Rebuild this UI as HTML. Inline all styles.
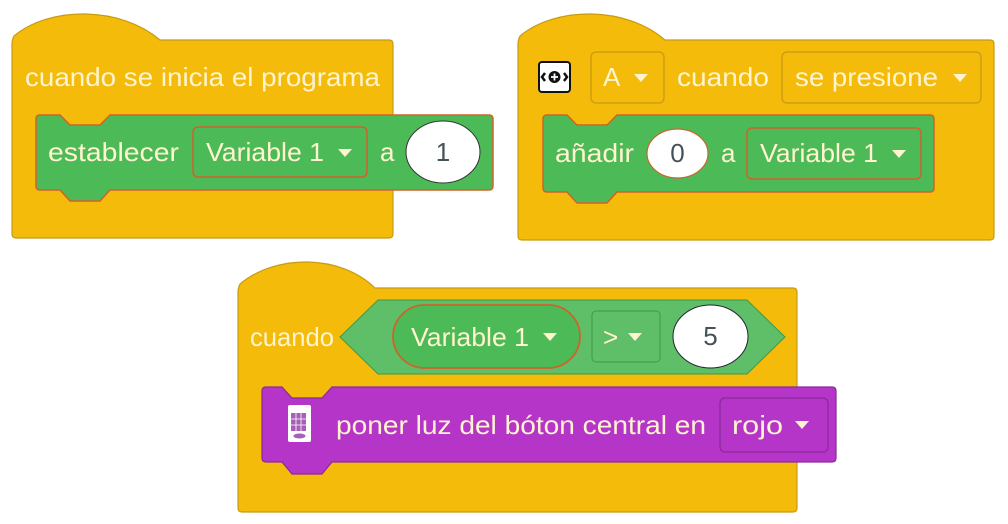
<!DOCTYPE html>
<html><head><meta charset="utf-8"><style>
body{margin:0;background:#fff;}
svg{display:block;}
text{font-family:"Liberation Sans",sans-serif;font-size:26px;}
.c{fill:#fff4cf;}
.d{fill:#44525a;}
</style></head><body>
<svg width="1008" height="524" viewBox="0 0 1008 524">
<!-- Block 1 -->
<path d="M12,44 Q12,40 14,36 C50,6 120,6 160,40 L389,40 Q393,40 393,44 L393,234 Q393,238 389,238 L16,238 Q12,238 12,234 Z" fill="#f4bb0b" stroke="#c79b12" stroke-width="1.2"/>
<path d="M40,115 L60,115 L70,125 L100,125 L110,115 L489,115 Q493,115 493,119 L493,186 Q493,190 489,190 L110,190 L100,201 L70,201 L60,190 L40,190 Q36,190 36,186 L36,119 Q36,115 40,115 Z" fill="#4dba58" stroke="#d0622a" stroke-width="1.5"/>
<text x="25" y="86" class="c" textLength="355" lengthAdjust="spacingAndGlyphs">cuando se inicia el programa</text>
<text x="48" y="161" class="c" textLength="131" lengthAdjust="spacingAndGlyphs">establecer</text>
<rect x="193" y="127" width="174" height="50" rx="5" fill="#4dba58" stroke="#d0622a" stroke-width="1.5"/>
<text x="206" y="161" class="c" textLength="118" lengthAdjust="spacingAndGlyphs">Variable 1</text>
<path d="M338,149 L352,149 L345,157 Z" fill="#fff4cf"/>
<text x="380" y="161" class="c">a</text>
<ellipse cx="443" cy="152" rx="37" ry="31" fill="#fff" stroke="#333" stroke-width="1"/>
<text x="443" y="161" class="d" text-anchor="middle">1</text>

<!-- Block 2 -->
<path d="M518,44 Q518,40 520,36 C556,6 626,6 665,40 L990,40 Q994,40 994,44 L994,236 Q994,240 990,240 L522,240 Q518,240 518,236 Z" fill="#f4bb0b" stroke="#c79b12" stroke-width="1.2"/>
<rect x="539" y="62" width="31" height="30" rx="3" fill="#fff" stroke="#111" stroke-width="2"/>
<circle cx="554.5" cy="77" r="6" fill="#111"/>
<path d="M551,77 L558,77 M554.5,73.5 L554.5,80.5" stroke="#fff" stroke-width="1.8"/>
<path d="M545,73 L542,77 L545,81 M564,73 L567,77 L564,81" stroke="#111" stroke-width="2.5" fill="none"/>
<rect x="591" y="52" width="73" height="51" rx="5" fill="#f4bb0b" stroke="#c99a12" stroke-width="1.3"/>
<text x="603" y="86" class="c">A</text>
<path d="M634,74 L648,74 L641,82 Z" fill="#fff4cf"/>
<text x="677" y="86" class="c" textLength="92" lengthAdjust="spacingAndGlyphs">cuando</text>
<rect x="782" y="52" width="199" height="51" rx="5" fill="#f4bb0b" stroke="#c99a12" stroke-width="1.3"/>
<text x="795" y="86" class="c" textLength="143" lengthAdjust="spacingAndGlyphs">se presione</text>
<path d="M953,74 L967,74 L960,82 Z" fill="#fff4cf"/>
<path d="M547,115 L567,115 L577,125 L607,125 L617,115 L930,115 Q934,115 934,119 L934,188 Q934,192 930,192 L617,192 L607,203 L577,203 L567,192 L547,192 Q543,192 543,188 L543,119 Q543,115 547,115 Z" fill="#4dba58" stroke="#d0622a" stroke-width="1.5"/>
<text x="555" y="162" class="c" textLength="79" lengthAdjust="spacingAndGlyphs">añadir</text>
<ellipse cx="677.5" cy="153.5" rx="30.5" ry="24.5" fill="#fff" stroke="#d0622a" stroke-width="1.2"/>
<text x="677.5" y="162" class="d" text-anchor="middle">0</text>
<text x="721" y="162" class="c">a</text>
<rect x="747" y="128" width="174" height="51" rx="5" fill="#4dba58" stroke="#d0622a" stroke-width="1.5"/>
<text x="760" y="162" class="c" textLength="118" lengthAdjust="spacingAndGlyphs">Variable 1</text>
<path d="M892,150 L906,150 L899,158 Z" fill="#fff4cf"/>

<!-- Block 3 -->
<path d="M238,292 Q238,288 240,284 C276,254 340,254 375,288 L793,288 Q797,288 797,292 L797,508 Q797,512 793,512 L242,512 Q238,512 238,508 Z" fill="#f4bb0b" stroke="#c79b12" stroke-width="1.2"/>
<text x="250" y="346" class="c" textLength="84" lengthAdjust="spacingAndGlyphs">cuando</text>
<path d="M340,337 L378,300 L747,300 L785,337 L747,374 L378,374 Z" fill="#5fbf68" stroke="#3d9a47" stroke-width="1"/>
<rect x="393" y="305" width="187" height="63" rx="31.5" fill="#4dba58" stroke="#d0622a" stroke-width="1.8"/>
<text x="411" y="346" class="c" textLength="118" lengthAdjust="spacingAndGlyphs">Variable 1</text>
<path d="M543,333 L557,333 L550,341 Z" fill="#fff4cf"/>
<rect x="592" y="311" width="68" height="51" rx="4" fill="#5fbf68" stroke="#3d9a47" stroke-width="1"/>
<text x="603" y="346" class="c">&gt;</text>
<path d="M628,333 L642,333 L635,341 Z" fill="#fff4cf"/>
<ellipse cx="710.5" cy="336.5" rx="37.5" ry="31.5" fill="#fff" stroke="#223" stroke-width="1"/>
<text x="710.5" y="345" class="d" text-anchor="middle">5</text>
<path d="M266,387 L282,387 L292,398 L322,398 L332,387 L832,387 Q836,387 836,391 L836,458 Q836,462 832,462 L332,462 L322,474 L292,474 L282,462 L266,462 Q262,462 262,458 L262,391 Q262,387 266,387 Z" fill="#b535c9" stroke="#8a2a9a" stroke-width="1.2"/>
<rect x="288" y="405" width="23" height="37" rx="2" fill="#fff"/>
<rect x="291" y="413" width="15" height="18" fill="#a85fb8"/>
<path d="M291,419 H306 M291,425 H306 M296,413 V431 M301,413 V431" stroke="#fff" stroke-width="0.8"/>
<ellipse cx="299.5" cy="436" rx="6" ry="2.5" fill="#a85fb8"/>
<text x="336" y="434" class="c" textLength="370" lengthAdjust="spacingAndGlyphs">poner luz del bóton central en</text>
<rect x="720" y="398" width="108" height="54" rx="5" fill="#b535c9" stroke="#8a2a9a" stroke-width="1.3"/>
<text x="732" y="434" class="c" textLength="51" lengthAdjust="spacingAndGlyphs">rojo</text>
<path d="M795,421 L809,421 L802,429 Z" fill="#fff4cf"/>
</svg>
</body></html>
